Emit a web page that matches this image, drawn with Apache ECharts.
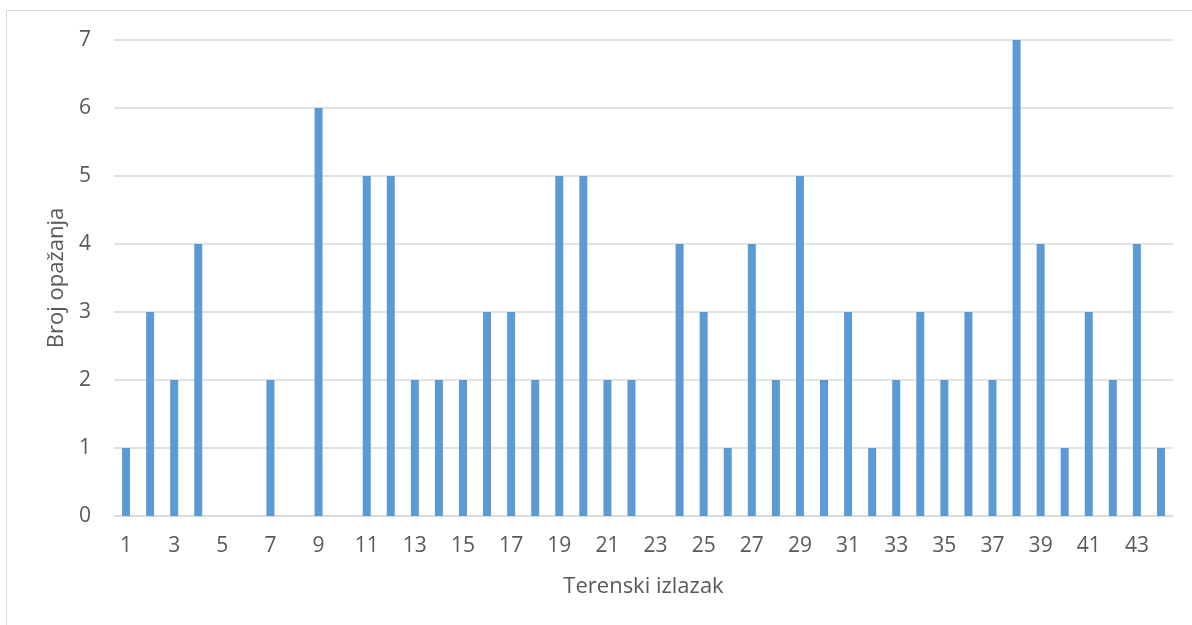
<!DOCTYPE html>
<html>
<head>
<meta charset="utf-8">
<script src="https://cdn.jsdelivr.net/npm/echarts@6/dist/echarts.min.js"></script>
<style>
html, body { margin: 0; padding: 0; background: #fff; }
#chart { width: 1192px; height: 625px; }
</style>
</head>
<body>
<div id="chart"></div>
<script>
// field trip number and number of observations
var categories = [];
for (var i = 1; i <= 44; i++) categories.push(String(i));
var counts = [1, 3, 2, 4, 0, 0, 2, 0, 6, 0,
              5, 5, 2, 2, 2, 3, 3, 2, 5, 5,
              2, 2, 0, 4, 3, 1, 4, 2, 5, 2,
              3, 1, 2, 3, 2, 3, 2, 7, 4, 1,
              3, 2, 4, 1];
var yTicks = [0, 1, 2, 3, 4, 5, 6, 7];

var labelColor = '#595959';
var lineColor = '#d9d9d9';
var barColor = '#5b9bd5';
var font = 'Open Sans';

var option = {
    animation: false,
    backgroundColor: '#fff',
    textStyle: { fontFamily: font },
    graphic: [{
        type: 'rect',
        shape: { x: 6.5, y: 10.5, width: 1200, height: 700 },
        style: { fill: 'none', stroke: lineColor, lineWidth: 1 },
        silent: true
    }],
    grid: { left: 114, right: 19, top: 40, bottom: 109 },
    xAxis: {
        type: 'category',
        data: categories,
        name: 'Terenski izlazak',
        nameLocation: 'middle',
        nameGap: 60,
        nameTextStyle: { color: labelColor, fontSize: 22, fontFamily: font },
        axisLine: { lineStyle: { color: lineColor, width: 1.5 } },
        axisTick: { show: false },
        axisLabel: { interval: 1, color: labelColor, fontSize: 21, margin: 20, fontFamily: font }
    },
    yAxis: {
        type: 'value',
        min: yTicks[0],
        max: yTicks[yTicks.length - 1],
        interval: 1,
        name: 'Broj opažanja',
        nameLocation: 'middle',
        nameGap: 44,
        nameTextStyle: { color: labelColor, fontSize: 22, fontFamily: font },
        axisLine: { show: false },
        axisTick: { show: false },
        splitLine: { lineStyle: { color: lineColor, width: 1.5 } },
        axisLabel: { color: labelColor, fontSize: 21, margin: 23, fontFamily: font }
    },
    series: [{
        type: 'bar',
        data: counts,
        barWidth: 8,
        itemStyle: { color: barColor }
    }]
};

var myChart = echarts.init(document.getElementById('chart'));
myChart.setOption(option);
</script>
</body>
</html>
